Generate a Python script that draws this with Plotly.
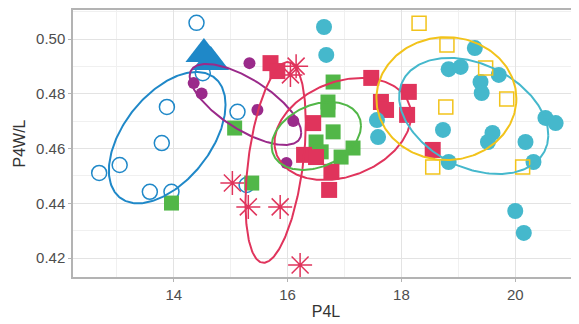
import numpy as np
import plotly.graph_objects as go

# ---- data ----
blue_x = [14.40, 14.51, 13.88, 13.79, 15.12, 12.69, 13.05, 13.58, 13.96, 15.28]
blue_y = [0.5059, 0.4875, 0.4752, 0.4620, 0.4734, 0.4511, 0.4540, 0.4442, 0.4442, 0.4467]

tri_x = [14.53, 14.65]
tri_y = [0.4945, 0.4916]

purple_x = [14.35, 14.49, 15.33, 15.47, 16.10, 15.98]
purple_y = [0.4839, 0.4801, 0.4912, 0.4741, 0.4701, 0.4547]

ast_x = [15.03, 15.31, 15.87, 16.22, 16.15, 16.05]
ast_y = [0.4474, 0.4387, 0.4387, 0.4175, 0.4901, 0.4869]

red_x = [15.70, 15.82, 16.45, 16.29, 16.50, 16.77, 16.73, 17.47, 17.64, 17.73, 18.13, 18.10, 18.55]
red_y = [0.4912, 0.4883, 0.4693, 0.4577, 0.4569, 0.4515, 0.4449, 0.4858, 0.4770, 0.4741, 0.4807, 0.4723, 0.4595]

green_x = [13.96, 15.07, 15.37, 16.80, 16.71, 16.71, 16.80, 16.50, 17.15, 16.94, 16.59]
green_y = [0.4401, 0.4675, 0.4474, 0.4843, 0.4770, 0.4741, 0.4661, 0.4624, 0.4602, 0.4569, 0.4588]

cyan_x = [16.64, 16.68, 17.57, 17.59, 19.29, 18.83, 19.04, 19.71, 19.39, 19.41,
          20.53, 20.71, 18.73, 19.60, 19.52, 20.18, 18.83, 20.32, 20.00, 20.15]
cyan_y = [0.5044, 0.4942, 0.4704, 0.4642, 0.4967, 0.4890, 0.4898, 0.4869, 0.4843, 0.4803,
          0.4712, 0.4693, 0.4668, 0.4657, 0.4624, 0.4624, 0.4551, 0.4551, 0.4372, 0.4292]

yellow_x = [18.31, 18.80, 19.48, 19.85, 18.78, 18.55, 20.13]
yellow_y = [0.5058, 0.4978, 0.4894, 0.4781, 0.4752, 0.4533, 0.4533]

# ellipse parameters: centre x, half-width, centre y, half-height, tilt (cos of phase)
ell_names = ["blue", "purple", "redtall", "redwide", "green", "cyan", "yellow"]
ell_cx = [13.885, 15.26, 15.79, 16.97, 16.505, 19.27, 18.79]
ell_ax = [1.025, 0.98, 0.53, 1.20, 0.785, 1.31, 1.23]
ell_cy = [0.4640, 0.4761, 0.45495, 0.46715, 0.4646, 0.4719, 0.47825]
ell_by = [0.0240, 0.0148, 0.03665, 0.01865, 0.0124, 0.0212, 0.02245]
ell_tilt = [0.5, -0.7, 0.4, 0.27, 0.3, -0.33, 0.0]

x_ticks = [14, 16, 18, 20]
y_ticks = [0.42, 0.44, 0.46, 0.48, 0.50]

# ---- styles ----
C_BLUE = "#1f88c8"
C_PURPLE = "#9a2a8a"
C_RED = "#e0345c"
C_GREEN = "#52b748"
C_CYAN = "#45b8cc"
C_YELLOW = "#f2c31b"
ell_colors = [C_BLUE, C_PURPLE, C_RED, C_RED, C_GREEN, C_CYAN, C_YELLOW]

fig = go.Figure()

def pts(x, y, symbol, color, size, filled=True, lw=1.5):
    if filled:
        m = dict(symbol=symbol, color=color, size=size, line=dict(width=0))
    else:
        m = dict(symbol=symbol, color=color, size=size, line=dict(width=lw, color=color))
    fig.add_trace(go.Scatter(x=x, y=y, mode="markers", marker=m, showlegend=False, hoverinfo="skip"))

pts(blue_x, blue_y, "circle-open", C_BLUE, 15, filled=False, lw=1.5)
pts(purple_x, purple_y, "circle", C_PURPLE, 12)
pts(ast_x, ast_y, "asterisk-open", C_RED, 20, filled=False, lw=1.5)
pts(green_x, green_y, "square", C_GREEN, 15)
pts(red_x, red_y, "square", C_RED, 16)
pts(cyan_x, cyan_y, "circle", C_CYAN, 16)
pts(yellow_x, yellow_y, "square-open", C_YELLOW, 14, filled=False, lw=1.5)
pts(tri_x, tri_y, "triangle-up", C_BLUE, 32)

t = np.linspace(0, 2 * np.pi, 241)
for cx, ax, cy, by, c, col in zip(ell_cx, ell_ax, ell_cy, ell_by, ell_tilt, ell_colors):
    phi = np.arccos(c)
    ex = cx + ax * np.cos(t)
    ey = cy + by * np.cos(t - phi)
    fig.add_trace(go.Scatter(x=ex, y=ey, mode="lines", line=dict(color=col, width=2),
                             showlegend=False, hoverinfo="skip"))

# the page body has an 8px default margin, so the figure is sized/offset for it
font_fam = "Liberation Sans, Arial, sans-serif"
fig.update_layout(
    width=571, height=316,
    margin=dict(l=65, r=0, t=2, b=47),
    paper_bgcolor="white", plot_bgcolor="white",
    font=dict(family=font_fam, color="#4d4d4d"),
)
fig.update_xaxes(
    range=[12.23, 21.12], tickvals=x_ticks, ticktext=[str(v) for v in x_ticks],
    showgrid=True, gridcolor="#e3e3e3", gridwidth=1,
    minor=dict(dtick=1, tick0=13, showgrid=True, gridcolor="#f0f0f0", gridwidth=1),
    showline=True, linecolor="#b3b3b3", linewidth=1.5, mirror=True,
    ticks="outside", ticklen=3, tickcolor="#b3b3b3",
    tickfont=dict(size=15, color="#4d4d4d"),
    title=dict(text="P4L", font=dict(size=16, color="#333333"), standoff=4),
    zeroline=False,
)
fig.update_yaxes(
    range=[0.4131, 0.5106], tickvals=y_ticks, ticktext=["%.2f" % v for v in y_ticks],
    showgrid=True, gridcolor="#e3e3e3", gridwidth=1,
    minor=dict(dtick=0.01, tick0=0.41, showgrid=True, gridcolor="#f0f0f0", gridwidth=1),
    showline=True, linecolor="#b3b3b3", linewidth=1.5,
    ticks="outside", ticklen=3, tickcolor="#b3b3b3",
    tickfont=dict(size=15, color="#4d4d4d"),
    title=dict(text="P4W/L", font=dict(size=16, color="#333333"), standoff=6),
    zeroline=False,
)

fig.write_html("out.html")
